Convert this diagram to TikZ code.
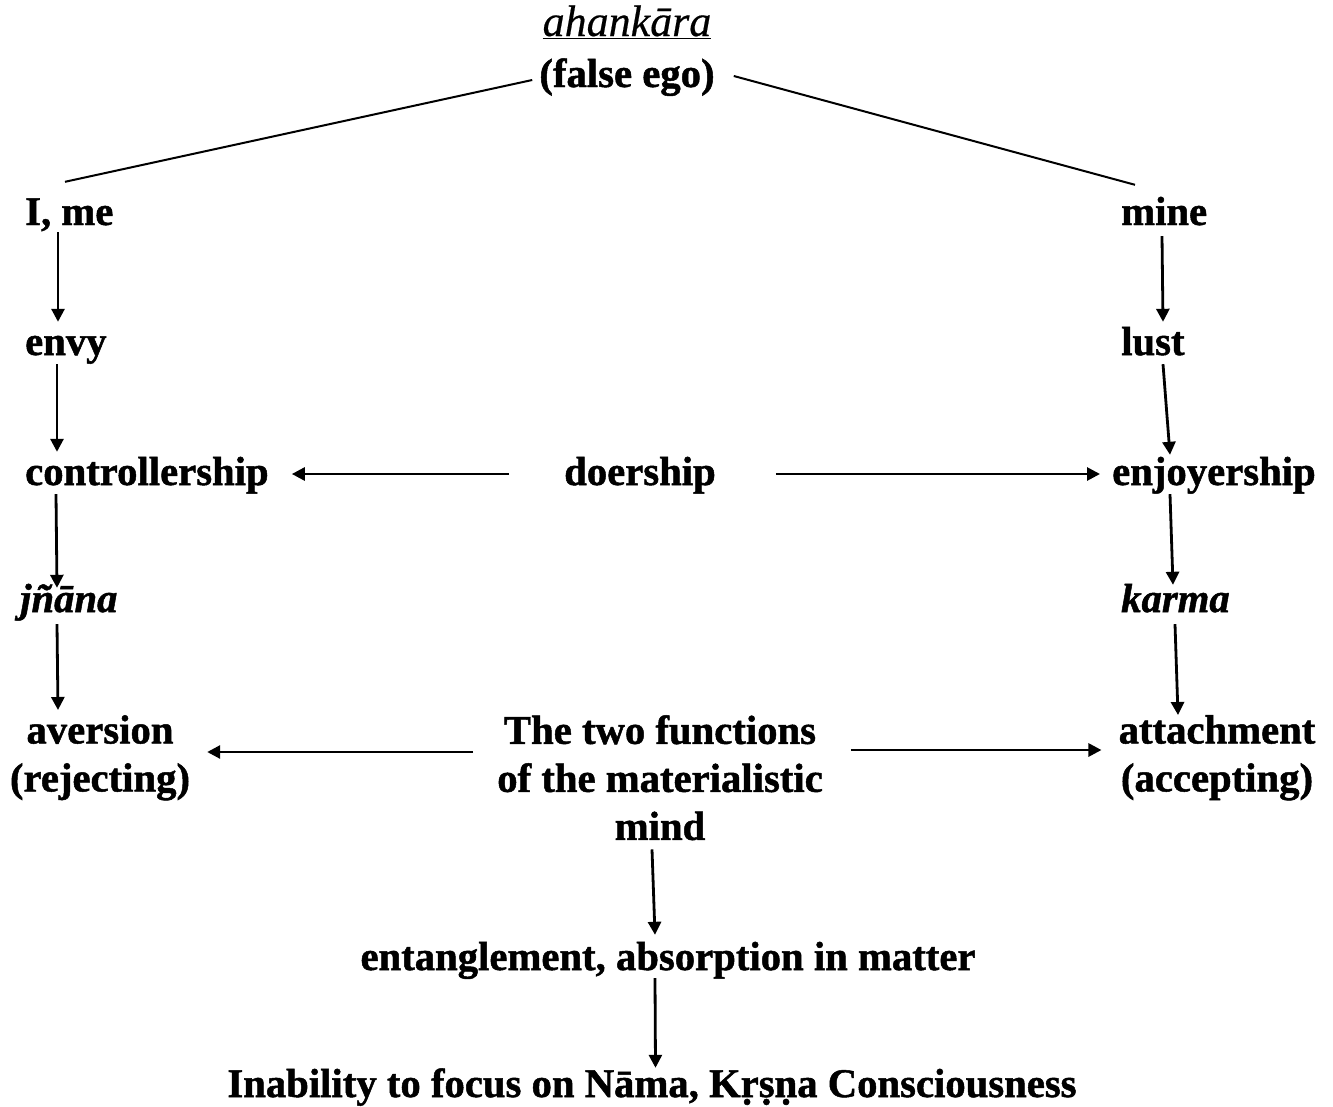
\documentclass[tikz,border=0pt]{standalone}
\usepackage{fontspec}
\setmainfont{Liberation Serif}[BoldFeatures={FakeBold=1.2},BoldItalicFeatures={FakeBold=1.2},ItalicFeatures={FakeBold=0.4}]
\usetikzlibrary{arrows.meta}
\begin{document}
\begin{tikzpicture}[x=1pt,y=-1pt,
  lbl/.style={inner sep=0pt,font=\fontsize{40.7}{48}\selectfont\bfseries,text height=28pt,text depth=9pt},
  multi/.style={inner sep=0pt,font=\fontsize{40.7}{48}\selectfont\bfseries,align=center},
  arr/.style={line width=2.8pt,-{Triangle[length=13pt,width=13pt]}},
  link/.style={line width=2pt}]
\useasboundingbox (0,0) rectangle (1333,1106);
% top
\node[inner sep=0pt,font=\fontsize{44}{48}\selectfont\itshape,anchor=base] (ahan) at (627,36) {\underline{ahankāra}};
\node[lbl,anchor=base] (ego) at (627,87) {(false ego)};
% left column
\node[lbl,anchor=base west] (ime) at (25,225) {I, me};
\node[lbl,anchor=base west] (envy) at (25,355) {envy};
\node[lbl,anchor=base west] (ctrl) at (25,485) {controllership};
\node[lbl,anchor=base west,font=\fontsize{40.7}{48}\selectfont\bfseries\itshape] (jnana) at (20,612) {jñāna};
\node[multi,anchor=north] (aver) at (100,715) {\rule{0pt}{28pt}aversion\\(rejecting)};
% right column
\node[lbl,anchor=base west] (mine) at (1121,225) {mine};
\node[lbl,anchor=base west] (lust) at (1121,355) {lust};
\node[lbl,anchor=base west] (enjoy) at (1112,485) {enjoyership};
\node[lbl,anchor=base west,font=\fontsize{40.7}{48}\selectfont\bfseries\itshape] (karma) at (1121,612) {karma};
\node[multi,anchor=north] (att) at (1217,715) {\rule{0pt}{28pt}attachment\\(accepting)};
% centre
\node[lbl,anchor=base] (doer) at (640,485) {doership};
\node[multi,anchor=north] (fun) at (660,715) {\rule{0pt}{28pt}The two functions\\of the materialistic\\mind};
\node[lbl,anchor=base] (ent) at (668,970) {entanglement, absorption in matter};
\node[lbl,anchor=base] (inab) at (652,1097) {Inability to focus on Nāma, Kṛṣṇa Consciousness};
% top links
\draw[link] ([shift={(-7,2.5)}]ego.west) -- ([shift={(40,-15)}]ime.north west);
\draw[link] ([shift={(19,-1.5)}]ego.east) -- ([shift={(14,-12)}]mine.north west);
% left column arrows
\draw[arr] ([shift={(33,-2)}]ime.south west) -- ([shift={(33,-5)}]envy.north west);
\draw[arr] ([shift={(32,0)}]envy.south west) -- ([shift={(32,-5)}]ctrl.north west);
\draw[arr] ([shift={(31,0)}]ctrl.south west) -- ([shift={(37,4)}]jnana.north west);
\draw[arr] ([shift={(37,3)}]jnana.south west) -- ([shift={(-42,-5)}]aver.north);
% right column arrows
\draw[arr] ([shift={(41,2)}]mine.south west) -- ([shift={(42,-5)}]lust.north west);
\draw[arr] ([shift={(42,0)}]lust.south west) -- ([shift={(58,-2)}]enjoy.north west);
\draw[arr] ([shift={(58,0)}]enjoy.south west) -- ([shift={(52,1)}]karma.north west);
\draw[arr] ([shift={(54,3)}]karma.south west) -- ([shift={(-39,0)}]att.north);
% doership arrows
\draw[arr] ([shift={(-55,-1.5)}]doer.west) -- ([shift={(23,-1.5)}]ctrl.east);
\draw[arr] ([shift={(60,-1.5)}]doer.east) -- ([shift={(-12,-1.5)}]enjoy.west);
% functions arrows
\draw[arr] ([shift={(-24,37)}]fun.north west) -- ([shift={(17,37)}]aver.north east);
\draw[arr] ([shift={(28,35)}]fun.north east) -- ([shift={(-17,35)}]att.north west);
\draw[arr] ([shift={(-8,9)}]fun.south) -- ([shift={(-13,-7)}]ent.north);
\draw[arr] ([shift={(-13,-1)}]ent.south) -- ([shift={(3.5,-1)}]inab.north);
\end{tikzpicture}
\end{document}
